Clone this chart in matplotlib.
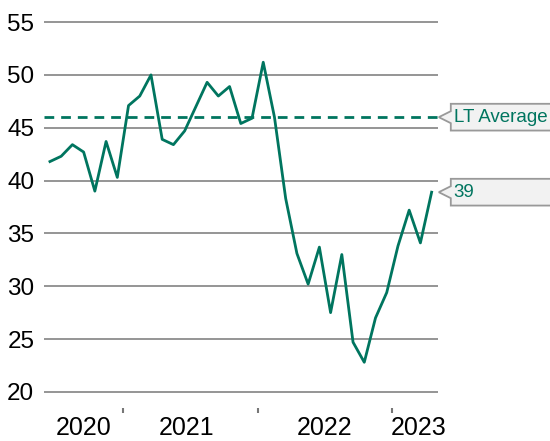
import matplotlib.pyplot as plt
from matplotlib.path import Path
import numpy as np

# monthly readings, Jun 2020 .. Apr 2023
months = np.arange(35)
values = [41.8, 42.3, 43.4, 42.7, 39.0, 43.7, 40.3, 47.1, 48.0, 50.0,
          43.9, 43.4, 44.7, 47.0, 49.3, 48.0, 48.9, 45.4, 45.9, 51.2,
          46.0, 38.3, 33.1, 30.2, 33.7, 27.5, 33.0, 24.7, 22.8, 27.0,
          29.4, 33.8, 37.2, 34.1, 38.9]
lt_average = 46.0
last_label = "39"

years = ["2020", "2021", "2022", "2023"]
year_centres = [3.0, 12.2, 24.5, 32.8]
year_breaks = [6.5, 18.5, 30.5]

green = "#00755f"

plt.rcParams['font.family'] = ['Liberation Sans', 'DejaVu Sans']

fig = plt.figure(figsize=(5.5, 4.41), dpi=100)
ax = fig.add_axes([0.08, 0.0635, 0.716, 0.89])

ax.plot(months, values, color=green, linewidth=2, zorder=3)
ax.axhline(lt_average, color=green, linewidth=2, linestyle=(0, (3.5, 2.5)), zorder=3)

ax.set_xlim(-0.53, 34.55)
ax.set_ylim(18.0, 55.15)
ax.set_yticks(np.arange(20, 56, 5))
ax.yaxis.grid(True, color="#8c8c8c", linewidth=1.3)
ax.set_axisbelow(True)
ax.tick_params(axis='y', length=0, pad=7, labelsize=17.5)

ax.set_xticks(year_centres)
ax.set_xticklabels(years)
ax.tick_params(axis='x', which='major', length=0, pad=2, labelsize=18)
ax.set_xticks(year_breaks, minor=True)
ax.tick_params(axis='x', which='minor', direction='in', length=3.5, width=1.5,
               color="#777777")

for s in ax.spines.values():
    s.set_visible(False)


def callout(x0, y0, width, height, mutation_size):
    pad = 0.26 * mutation_size
    left = x0 - 3
    bottom = y0 - pad
    top = y0 + height + pad
    mid = (bottom + top) / 2
    verts = [(left, top), (left + 400, top), (left + 400, bottom), (left, bottom),
             (left, mid - 6), (left - 12, mid), (left, mid + 6), (left, top), (left, top)]
    codes = [Path.MOVETO] + [Path.LINETO] * 7 + [Path.CLOSEPOLY]
    return Path(verts, codes)


for val, txt in [(lt_average, "LT Average"), (values[-1], last_label)]:
    ax.annotate(txt, xy=(1, val), xycoords=ax.get_yaxis_transform(),
                xytext=(16, 0), textcoords='offset pixels', ha='left', va='center',
                fontsize=13.5, color=green, annotation_clip=False,
                bbox=dict(boxstyle=callout, facecolor="#f2f2f2", edgecolor="#999999",
                          linewidth=1.3))

plt.savefig("out.png", dpi=100)
